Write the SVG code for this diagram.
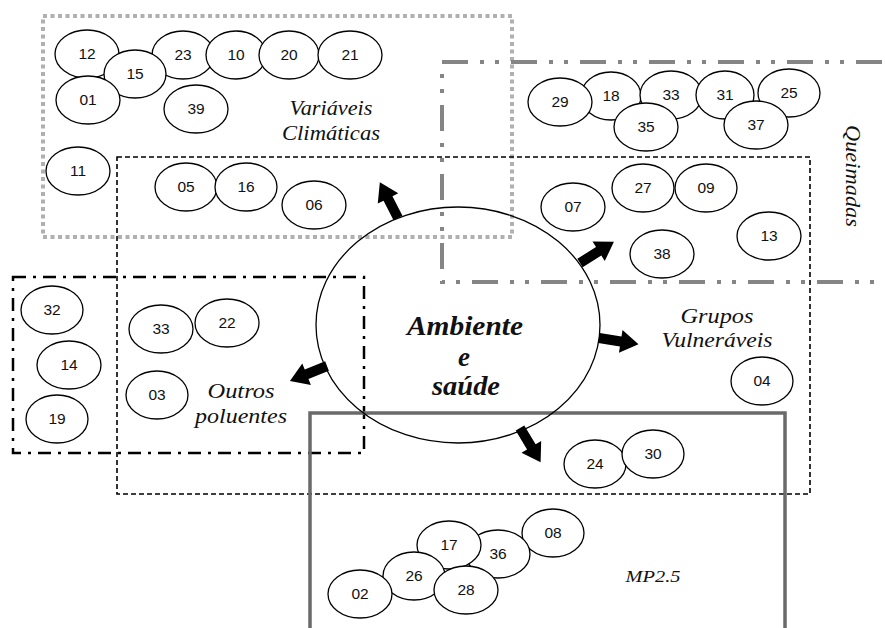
<svg xmlns="http://www.w3.org/2000/svg" xmlns:xlink="http://www.w3.org/1999/xlink" width="885" height="628" viewBox="0 0 885 628">
<style>
.bg{fill:#fff}
.n ellipse{fill:#fff;stroke:#000;stroke-width:1.3}
.n text{font-family:"Liberation Sans",Arial,sans-serif;font-size:15.5px;text-anchor:middle;fill:#111}
.lbl{font-family:"Liberation Serif","Times New Roman",serif;font-style:italic;font-size:22px;text-anchor:middle;fill:#111}
.main{font-family:"Liberation Serif","Times New Roman",serif;font-style:italic;font-weight:bold;font-size:27px;text-anchor:middle;fill:#111}
.arrow{fill:#000}
</style>
<defs>
<path id="arr" d="M0,-5 L22,-5 L22,-11.5 L40,0 L22,11.5 L22,5 L0,5 Z"/>
</defs>
<rect class="bg" x="0" y="0" width="885" height="628"/>

<g id="clusters" fill="none">
  <g id="box-variaveis">
    <rect x="43" y="16" width="469" height="221" stroke="#b0b0b0" stroke-width="4" stroke-dasharray="4,3.5"/>
  </g>
  <g id="box-queimadas">
    <rect x="442" y="62" width="470" height="220" stroke="#858585" stroke-width="4" stroke-dasharray="26,12,4,11,4,12"/>
  </g>
  <g id="box-grupos">
    <rect x="117" y="157" width="693" height="337" stroke="#000" stroke-width="1.6" stroke-dasharray="5,3"/>
  </g>
  <g id="box-outros">
    <rect x="13" y="277" width="351" height="176" stroke="#000" stroke-width="2.5" stroke-dasharray="13,7,3,7"/>
  </g>
  <g id="box-mp25">
    <rect x="310" y="413" width="475" height="240" stroke="#6a6a6a" stroke-width="3.5"/>
  </g>
</g>

<g id="center">
  <ellipse cx="458" cy="325" rx="142" ry="118" fill="none" stroke="#000" stroke-width="1.3"/>
  <text class="main" x="465" y="335" textLength="116" lengthAdjust="spacingAndGlyphs">Ambiente</text>
  <text class="main" x="464" y="366">e</text>
  <text class="main" x="466" y="395" textLength="68" lengthAdjust="spacingAndGlyphs">saúde</text>
</g>

<g id="nodes">
  <g id="n12" class="n"><ellipse cx="87" cy="54" rx="32" ry="24"/><text x="87" y="59">12</text></g>
  <g id="n23" class="n"><ellipse cx="183" cy="55" rx="31" ry="24"/><text x="183" y="60">23</text></g>
  <g id="n10" class="n"><ellipse cx="236" cy="55" rx="30" ry="24"/><text x="236" y="60">10</text></g>
  <g id="n20" class="n"><ellipse cx="289" cy="55" rx="30" ry="24"/><text x="289" y="60">20</text></g>
  <g id="n21" class="n"><ellipse cx="350" cy="55" rx="32" ry="24"/><text x="350" y="60">21</text></g>
  <g id="n15" class="n"><ellipse cx="135" cy="74" rx="31" ry="24"/><text x="135" y="79">15</text></g>
  <g id="n01" class="n"><ellipse cx="88" cy="100" rx="32" ry="24"/><text x="88" y="105">01</text></g>
  <g id="n39" class="n"><ellipse cx="196" cy="109" rx="32" ry="24"/><text x="196" y="114">39</text></g>
  <g id="n11" class="n"><ellipse cx="78" cy="171" rx="32" ry="24"/><text x="78" y="176">11</text></g>
  <g id="n05" class="n"><ellipse cx="186" cy="187" rx="31" ry="24"/><text x="186" y="192">05</text></g>
  <g id="n16" class="n"><ellipse cx="246" cy="187" rx="31" ry="24"/><text x="246" y="192">16</text></g>
  <g id="n06" class="n"><ellipse cx="314" cy="205" rx="32" ry="24"/><text x="314" y="210">06</text></g>

  <g id="n18" class="n"><ellipse cx="611" cy="96" rx="30" ry="24"/><text x="611" y="101">18</text></g>
  <g id="n29" class="n"><ellipse cx="560" cy="102" rx="32" ry="24"/><text x="560" y="107">29</text></g>
  <g id="n33a" class="n"><ellipse cx="671" cy="95" rx="31" ry="24"/><text x="671" y="100">33</text></g>
  <g id="n31" class="n"><ellipse cx="725" cy="95" rx="29" ry="24"/><text x="725" y="100">31</text></g>
  <g id="n25" class="n"><ellipse cx="789" cy="93" rx="31" ry="24"/><text x="789" y="98">25</text></g>
  <g id="n35" class="n"><ellipse cx="646" cy="127" rx="32" ry="24"/><text x="646" y="132">35</text></g>
  <g id="n37" class="n"><ellipse cx="756" cy="125" rx="32" ry="24"/><text x="756" y="130">37</text></g>
  <g id="n27" class="n"><ellipse cx="643" cy="188" rx="31" ry="24"/><text x="643" y="193">27</text></g>
  <g id="n09" class="n"><ellipse cx="706" cy="188" rx="31" ry="24"/><text x="706" y="193">09</text></g>
  <g id="n07" class="n"><ellipse cx="573" cy="207" rx="32" ry="24"/><text x="573" y="212">07</text></g>
  <g id="n38" class="n"><ellipse cx="662" cy="254" rx="32" ry="24"/><text x="662" y="259">38</text></g>
  <g id="n13" class="n"><ellipse cx="769" cy="236" rx="32" ry="24"/><text x="769" y="241">13</text></g>

  <g id="n32" class="n"><ellipse cx="52" cy="310" rx="31" ry="24"/><text x="52" y="315">32</text></g>
  <g id="n14" class="n"><ellipse cx="69" cy="365" rx="32" ry="24"/><text x="69" y="370">14</text></g>
  <g id="n19" class="n"><ellipse cx="57" cy="419" rx="31" ry="24"/><text x="57" y="424">19</text></g>
  <g id="n33b" class="n"><ellipse cx="161" cy="329" rx="32" ry="24"/><text x="161" y="334">33</text></g>
  <g id="n22" class="n"><ellipse cx="227" cy="323" rx="32" ry="24"/><text x="227" y="328">22</text></g>
  <g id="n03" class="n"><ellipse cx="157" cy="395" rx="31" ry="24"/><text x="157" y="400">03</text></g>

  <g id="n04" class="n"><ellipse cx="762" cy="381" rx="31" ry="24"/><text x="762" y="386">04</text></g>
  <g id="n24" class="n"><ellipse cx="595" cy="464" rx="31" ry="24"/><text x="595" y="469">24</text></g>
  <g id="n30" class="n"><ellipse cx="653" cy="454" rx="31" ry="24"/><text x="653" y="459">30</text></g>

  <g id="n08" class="n"><ellipse cx="553" cy="533" rx="31" ry="24"/><text x="553" y="538">08</text></g>
  <g id="n36" class="n"><ellipse cx="498" cy="554" rx="32" ry="24"/><text x="498" y="559">36</text></g>
  <g id="n17" class="n"><ellipse cx="449" cy="545" rx="32" ry="24"/><text x="449" y="550">17</text></g>
  <g id="n26" class="n"><ellipse cx="414" cy="576" rx="31" ry="24"/><text x="414" y="581">26</text></g>
  <g id="n28" class="n"><ellipse cx="466" cy="590" rx="32" ry="24"/><text x="466" y="595">28</text></g>
  <g id="n02" class="n"><ellipse cx="360" cy="594" rx="32" ry="24"/><text x="360" y="599">02</text></g>
</g>

<g id="labels">
  <text class="lbl" x="331" y="115" textLength="83" lengthAdjust="spacingAndGlyphs">Variáveis</text>
  <text class="lbl" x="331" y="140" textLength="98" lengthAdjust="spacingAndGlyphs">Climáticas</text>
  <text class="lbl" transform="translate(846,176) rotate(90)" x="0" y="0" textLength="102" lengthAdjust="spacingAndGlyphs">Queimadas</text>
  <text class="lbl" x="241" y="398" textLength="67" lengthAdjust="spacingAndGlyphs">Outros</text>
  <text class="lbl" x="241" y="423" textLength="92" lengthAdjust="spacingAndGlyphs">poluentes</text>
  <text class="lbl" x="717" y="323" textLength="73" lengthAdjust="spacingAndGlyphs">Grupos</text>
  <text class="lbl" x="717" y="347" textLength="111" lengthAdjust="spacingAndGlyphs">Vulneráveis</text>
  <text class="lbl" x="653" y="582" style="font-size:17px" textLength="55" lengthAdjust="spacingAndGlyphs">MP2.5</text>
</g>

<g id="connectors" class="arrow">
  <use xlink:href="#arr" href="#arr" transform="translate(398,218) rotate(-117)"/>
  <use xlink:href="#arr" href="#arr" transform="translate(580,263) rotate(-32)"/>
  <use xlink:href="#arr" href="#arr" transform="translate(599,338) rotate(9)"/>
  <use xlink:href="#arr" href="#arr" transform="translate(327,366) rotate(158)"/>
  <use xlink:href="#arr" href="#arr" transform="translate(520,428) rotate(59)"/>
</g>
</svg>
